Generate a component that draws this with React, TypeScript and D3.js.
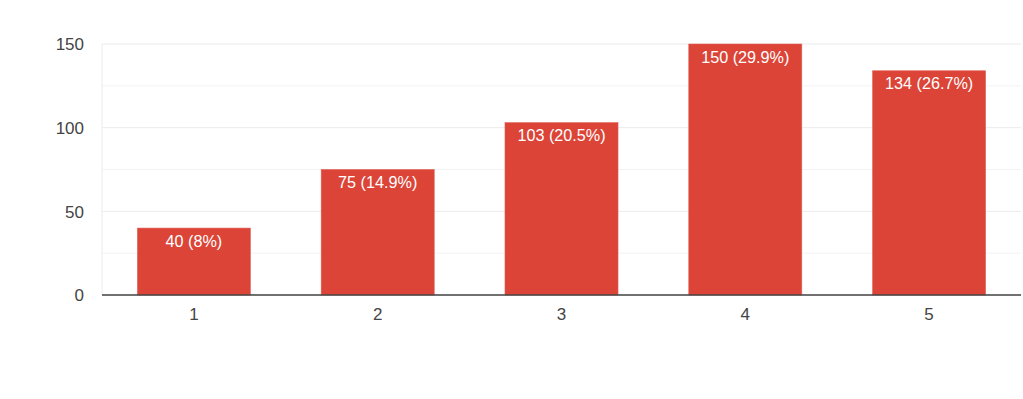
import React from "react";
import * as d3 from "d3";

const categories = ["1", "2", "3", "4", "5"];
const counts = [40, 75, 103, 150, 134];
const percents = ["8%", "14.9%", "20.5%", "29.9%", "26.7%"];
const majorTicks = [0, 50, 100, 150];
const minorTicks = [25, 75, 125];

export default function App() {
  const W = 1023, H = 399;
  const left = 102, right = 1021, top = 44, bottom = 295;
  const x = d3.scaleBand<string>().domain(categories).range([left, right]).paddingInner(0.385).paddingOuter(0.1925);
  const y = d3.scaleLinear().domain([0, 150]).range([bottom, top]);
  const font = "'Liberation Sans', Arial, sans-serif";
  return (
    <svg width={W} height={H} style={{ position: "absolute", left: 0, top: 0 }} fontFamily={font}>
      <rect width={W} height={H} fill="#fff" />
      {minorTicks.map((t) => (
        <line key={"m" + t} x1={left} x2={right} y1={y(t)} y2={y(t)} stroke="#f3f3f3" strokeWidth={1} />
      ))}
      {majorTicks.map((t) => (
        <line key={"g" + t} x1={left} x2={right} y1={y(t)} y2={y(t)} stroke="#ebebeb" strokeWidth={1} />
      ))}
      <line x1={left} x2={left} y1={top} y2={bottom} stroke="#ebebeb" strokeWidth={1} />
      {majorTicks.map((t) => (
        <text key={"t" + t} x={84} y={y(t) + 6.2} textAnchor="end" fontSize={17} fill="#444">{t}</text>
      ))}
      {categories.map((c, i) => (
        <g key={c}>
          <rect x={x(c)!} y={y(counts[i])} width={x.bandwidth()} height={bottom - y(counts[i])} fill="#db4437" stroke="#e06055" strokeWidth={0.6} />
          <text x={x(c)! + x.bandwidth() / 2} y={y(counts[i]) + 18.5} textAnchor="middle" fontSize={16.2} fill="#fff">
            {`${counts[i]} (${percents[i]})`}
          </text>
          <text x={x(c)! + x.bandwidth() / 2} y={319.5} textAnchor="middle" fontSize={17} fill="#444">{c}</text>
        </g>
      ))}
      <line x1={left} x2={right} y1={bottom} y2={bottom} stroke="#444" strokeWidth={1.5} />
    </svg>
  );
}
